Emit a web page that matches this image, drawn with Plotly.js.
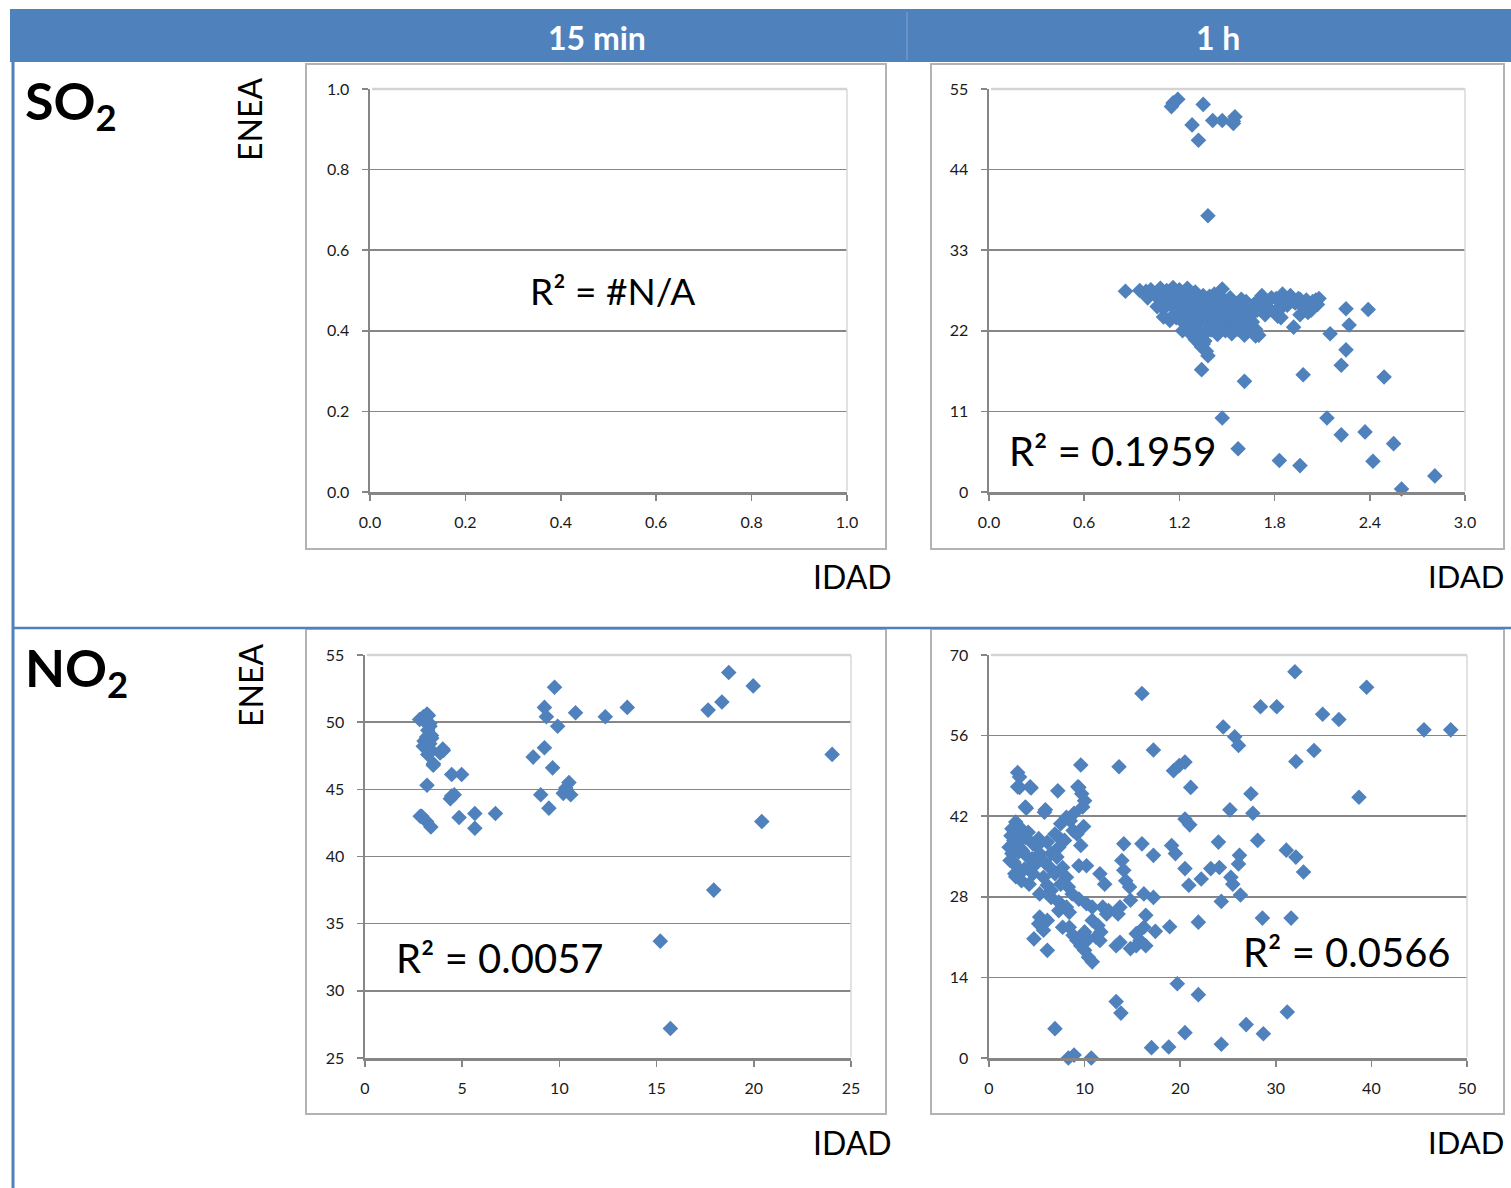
<!DOCTYPE html>
<html>
<head>
<meta charset="utf-8">
<script src="https://cdn.plot.ly/plotly-3.0.1.min.js"></script>
<style>html,body{margin:0;padding:0;background:#fff;}#chart{width:1511px;height:1188px;}</style>
</head>
<body>
<div id="chart"></div>
<script>
// ---------- DATA ----------
const colLabels = ['15 min', '1 h'];
const rowLabels = ['SO<sub>2</sub>', 'NO<sub>2</sub>'];
const yTitle = 'ENEA';
const xTitle = 'IDAD';
const r2Labels = ['R² = #N/A', 'R² = 0.1959', 'R² = 0.0057', 'R² = 0.0566'];

// SO2, 15 min: no data
const so2_15_x = [];
const so2_15_y = [];

// SO2, 1 h
const so2_1h_x = [1.16,1.19,1.15,1.35,1.28,1.32,1.41,1.47,1.54,1.55,1.54,1.38,
 0.86,0.99,1.47,1.72,1.85,1.96,2.06,2.07,2.01,1.82,1.92,2.15,2.25,2.39,2.27,2.25,2.22,1.98,2.49,1.61,1.34,1.38,1.35,1.70,1.26,1.47,2.13,2.22,2.37,1.57,2.55,1.83,1.96,2.42,2.81,2.60,
 0.95,1.02,1.08,1.12,1.16,1.20,1.25,1.30,1.35,1.42,1.52,1.78,1.90,1.95,2.00,2.04,2.08,
 1.00,1.05,1.10,1.14,1.18,1.22,1.27,1.32,1.38,1.44,1.50,1.56,1.62,1.67,1.70,1.75,1.88,1.93,1.98,2.03,
 1.06,1.10,1.15,1.19,1.23,1.28,1.33,1.37,1.41,1.46,1.50,1.55,1.60,1.65,1.69,1.74,1.80,1.84,1.96,
 1.10,1.14,1.18,1.22,1.26,1.30,1.34,1.38,1.42,1.46,1.50,1.54,1.58,1.62,1.66,
 1.22,1.31,1.36,1.40,1.44,1.49,1.53,1.57,1.61,1.66,1.68,
 1.30,1.33,1.36,1.34,1.37,1.31,
 1.04,1.13,1.21,1.29,1.39,1.45,1.53,1.59,1.64,1.73,1.81,1.87,1.92,2.05,
 1.12,1.20,1.29,1.35,1.43,1.52,1.57,1.63,1.71,1.77,1.84,
 1.17,1.25,1.32,1.40,1.48,1.56,1.64,1.68,1.27,1.39,1.46,1.55];
const so2_1h_y = [53.1,53.6,52.6,52.9,50.1,48.0,50.7,50.7,50.6,51.2,50.3,37.7,
 27.4,27.4,27.7,26.8,27.0,26.3,26.2,25.6,24.5,24.0,22.5,21.6,25.0,24.9,22.8,19.4,17.3,16.0,15.7,15.1,16.7,18.6,20.2,21.4,21.8,10.1,10.1,7.8,8.2,5.9,6.6,4.3,3.6,4.2,2.2,0.4,
 27.5,27.6,27.8,27.5,27.9,27.6,27.8,27.3,26.8,27.0,26.5,26.5,26.8,26.4,26.2,26.0,26.4,
 26.5,26.8,26.4,26.9,26.2,26.7,26.3,26.0,26.2,26.4,25.9,25.6,26.0,25.6,26.2,25.8,25.5,25.8,25.2,24.8,
 25.3,25.0,25.5,24.8,25.2,24.9,25.3,24.7,25.1,24.6,25.0,24.4,24.9,24.3,24.8,24.2,24.6,23.8,24.2,
 23.9,23.4,23.8,23.2,23.7,23.1,23.6,23.0,23.5,22.9,23.4,22.8,23.3,22.7,23.2,
 22.0,22.3,21.6,22.1,21.5,22.0,21.6,22.2,21.4,21.9,21.3,
 20.8,20.2,20.6,19.8,19.2,21.0,
 27.1,27.2,27.1,27.0,26.7,26.9,25.9,26.3,25.2,25.9,26.4,26.2,26.0,25.4,
 25.8,25.9,25.6,25.7,25.5,24.7,25.3,24.6,25.4,24.9,25.1,
 24.3,24.0,24.2,24.1,23.9,23.8,23.9,22.2,22.6,22.5,22.4,23.0];

// NO2, 15 min
const no2_15_x = [2.81,3.0,3.19,3.26,3.04,3.33,3.34,3.23,3.17,3.42,3.43,3.04,3.0,3.33,3.14,3.34,3.42,3.23,3.52,3.51,4.00,3.91,4.03,3.86,3.19,4.46,4.97,4.39,4.46,4.59,4.84,2.84,2.92,3.17,3.39,5.65,5.65,6.71,
 8.65,9.23,9.23,9.33,9.75,9.91,10.83,9.65,9.04,9.46,10.2,10.49,10.58,10.33,12.36,13.49,17.65,18.36,18.71,19.97,24.03,20.41,17.94,15.19,15.71];
const no2_15_y = [50.2,50.4,50.6,50.5,50.1,49.9,49.7,49.4,48.9,49.0,48.8,48.6,48.2,48.4,48.1,47.8,47.9,47.6,46.9,46.8,48.0,47.8,47.9,47.7,45.3,46.1,46.1,44.3,44.5,44.6,42.9,43.0,43.0,42.6,42.2,43.2,42.1,43.2,
 47.4,48.1,51.1,50.4,52.6,49.7,50.7,46.6,44.6,43.6,44.7,45.5,44.6,45.1,50.4,51.1,50.9,51.5,53.7,52.7,47.6,42.6,37.5,33.7,27.2];

// NO2, 1 h
const no2_1h_x = [16.0,32.0,39.5,28.4,30.1,34.9,36.6,24.5,25.7,26.1,45.5,48.3,17.2,34.0,32.1,9.6,13.6,19.3,19.9,20.5,21.1,27.4,38.7,25.2,27.6,20.5,21.0,28.1,24.0,14.1,16.0,19.1,19.5,31.1,32.1,32.9,26.2,26.1,17.2,20.5,20.9,22.2,23.2,24.1,25.3,25.5,26.3,24.3,28.6,31.6,21.9,18.9,17.4,16.4,17.2,16.2,19.7,21.9,13.3,13.8,31.2,6.9,26.9,28.7,20.5,24.3,17.0,18.8,8.3,8.9,10.7,
 3.0,3.2,3.2,4.4,7.2,9.4,9.7,10.0,9.8,3.9,5.8,3.2,2.4,2.3,2.6,2.1,2.4,2.2,3.0,2.7,3.4,4.2,3.8,4.6,5.2,5.3,4.9,4.6,4.2,6.1,6.5,6.9,7.5,8.1,8.5,7.3,8.8,9.2,9.6,10.2,9.4,7.3,7.1,7.7,6.9,7.5,6.5,5.3,6.1,5.7,8.1,8.3,8.7,6.5,7.3,8.1,7.3,8.4,9.4,10.2,10.8,11.6,12.1,11.9,12.5,13.9,14.1,14.3,14.7,14.8,13.7,13.5,5.3,5.2,6.1,5.7,4.7,6.1,7.7,8.4,8.8,9.2,9.6,10.0,10.4,10.8,10.8,11.4,11.7,11.2,10.4,10.0,9.4,11.6,13.3,13.7,14.8,15.4,15.8,16.4,15.4,16.2,12.3,3.0,4.3,9.3,3.8,5.9,2.8,3.5,2.6,4.0,5.8,
 2.9,3.6,2.5,3.3,4.1,2.8,3.7,4.5,3.1,5.0,8.9,9.9,7.9,6.3];
const no2_1h_y = [63.3,67.1,64.4,61.0,61.0,59.7,58.8,57.5,55.8,54.3,57.0,57.0,53.5,53.4,51.5,50.9,50.6,49.9,50.8,51.4,47.0,45.9,45.3,43.1,42.5,41.5,40.5,37.8,37.5,37.2,37.2,36.9,35.5,36.1,34.9,32.3,35.2,33.7,35.2,32.9,30.0,31.1,32.9,33.1,31.4,30.2,28.3,27.2,24.3,24.3,23.6,22.8,22.0,24.8,27.9,28.5,12.9,11.0,9.8,7.8,8.0,5.1,5.8,4.2,4.4,2.4,1.8,1.9,0,0.5,0,
 49.6,48.8,47.0,46.9,46.4,47.0,45.9,44.7,43.6,43.4,42.7,40.1,39.8,38.6,37.8,36.6,35.5,34.3,33.1,32.0,30.8,30.2,38.3,37.2,38.1,35.5,33.7,32.0,32.9,37.5,35.5,38.9,40.7,41.8,41.2,38.3,39.5,38.9,36.9,33.4,33.4,36.6,34.9,33.1,32.0,30.2,29.1,28.5,30.0,31.4,31.4,29.7,28.5,27.9,27.1,26.2,25.6,25.3,27.6,26.8,26.2,32.0,30.2,26.2,25.6,34.3,32.6,30.8,29.7,27.4,26.2,25.0,24.5,23.3,23.9,22.2,20.7,18.7,22.7,22.7,21.3,20.4,19.5,18.7,17.5,16.7,23.9,23.0,21.9,21.0,20.7,21.9,20.4,20.4,19.5,20.1,19.0,19.5,20.4,19.5,21.6,22.7,25.0,47.1,47.1,47.1,43.6,43.1,41.0,36.0,34.0,35.0,34.0,
 39.0,38.5,37.2,36.4,39.2,31.5,32.8,34.6,35.8,36.8,42.5,40.2,37.8,33.2];

const xRanges = [[0,1],[0,3],[0,25],[0,50]];
const xSteps = [0.2, 0.6, 5, 10];
const xFormats = ['.1f','.1f','d','d'];
const yRanges = [[0,1],[0,55],[25,55],[0,70]];
const ySteps = [0.2, 11, 5, 14];
const yFormats = ['.1f','d','d','d'];

// ---------- LAYOUT ----------
const W = 1511, H = 1188;
const X = p => p / W;
const Y = p => 1 - p / H;

const areas = [[370,847,89,492],[989,1465,89,492],[365,851,655,1058],[989,1467,655,1058]];
const boxes = [[306,886,64,549],[931,1504,64,549],[306,886,629,1114],[931,1504,629,1114]];

const blue = '#4F81BD';
const axGray = '#868686';
const FONT = 'Lato, "Noto Sans", sans-serif';

const layout = {
  width: W, height: H,
  margin: {l:0, r:0, t:0, b:0},
  paper_bgcolor: '#ffffff', plot_bgcolor: 'rgba(0,0,0,0)',
  showlegend: false,
  font: {family: FONT},
  shapes: [], annotations: []
};

areas.forEach((a, i) => {
  const n = i === 0 ? '' : (i + 1);
  layout['xaxis' + n] = {
    domain: [X(a[0]), X(a[1])], range: xRanges[i], anchor: 'y' + n,
    tick0: 0, dtick: xSteps[i], tickformat: xFormats[i],
    showgrid: false, zeroline: false, showline: true, linecolor: axGray, linewidth: 2.5,
    ticks: 'outside', ticklen: 6, tickwidth: 1.5, tickcolor: axGray,
    ticklabelstandoff: 8,
    tickfont: {family: FONT, size: 16, color: '#1a1a1a'}, fixedrange: true
  };
  layout['yaxis' + n] = {
    domain: [Y(a[3]), Y(a[2])], range: yRanges[i], anchor: 'x' + n,
    tick0: yRanges[i][0], dtick: ySteps[i], tickformat: yFormats[i],
    showgrid: true, gridcolor: axGray, gridwidth: 1.6,
    zeroline: false, showline: true, linecolor: axGray, linewidth: 2.5,
    ticks: 'outside', ticklen: 6, tickwidth: 1.5, tickcolor: axGray,
    ticklabelstandoff: 9,
    tickfont: {family: FONT, size: 16, color: '#1a1a1a'}, fixedrange: true
  };
  layout.shapes.push({type:'line', xref:'paper', yref:'paper', layer:'above',
    x0: X(a[0]+2), x1: X(a[1]), y0: Y(a[2]), y1: Y(a[2]), line:{color:'#d4d4d4', width:2.5}});
  layout.shapes.push({type:'line', xref:'paper', yref:'paper', layer:'above',
    x0: X(a[1]), x1: X(a[1]), y0: Y(a[2]), y1: Y(a[3]-1), line:{color:'#d9d9d9', width:1.5}});
});

boxes.forEach(b => {
  layout.shapes.push({type:'rect', xref:'paper', yref:'paper', layer:'below',
    x0: X(b[0]), x1: X(b[1]), y0: Y(b[3]), y1: Y(b[2]),
    line:{color:'#b3b3b3', width:2}, fillcolor:'rgba(0,0,0,0)'});
});

layout.shapes.push({type:'rect', xref:'paper', yref:'paper', layer:'below',
  x0: X(10), x1: X(1511), y0: Y(62), y1: Y(9), fillcolor: blue, line:{width:0}});
layout.shapes.push({type:'line', xref:'paper', yref:'paper', layer:'below',
  x0: X(907), x1: X(907), y0: Y(60), y1: Y(12), line:{color:'rgba(255,255,255,0.3)', width:1}});
layout.shapes.push({type:'line', xref:'paper', yref:'paper', layer:'below',
  x0: X(13), x1: X(13), y0: Y(62), y1: Y(1188), line:{color: blue, width:3}});
layout.shapes.push({type:'line', xref:'paper', yref:'paper', layer:'below',
  x0: X(13), x1: X(1511), y0: Y(628), y1: Y(628), line:{color: blue, width:2.5}});

function ann(text, x, y, opts) {
  layout.annotations.push(Object.assign({
    text: text, xref:'paper', yref:'paper', x: X(x), y: Y(y),
    showarrow: false, xanchor:'center', yanchor:'middle',
    font: {family: FONT, size: 30, color:'#000'}
  }, opts || {}));
}

ann(colLabels[0], 597, 37, {font:{family:FONT, size:32, color:'#fff', weight:700}});
ann(colLabels[1], 1218, 37, {font:{family:FONT, size:32, color:'#fff', weight:700}});
ann(rowLabels[0], 23, 104, {xanchor:'left', font:{family:FONT, size:52, color:'#000', weight:700}});
ann(rowLabels[1], 23, 671, {xanchor:'left', font:{family:FONT, size:52, color:'#000', weight:700}});
ann(yTitle, 250, 120, {textangle:-90, font:{family:FONT, size:32, color:'#000'}});
ann(yTitle, 250, 686, {textangle:-90, font:{family:FONT, size:32, color:'#000'}});
ann(xTitle, 852, 576, {font:{family:FONT, size:32, color:'#000'}});
ann(xTitle, 1506, 576, {xanchor:'right', font:{family:FONT, size:31, color:'#000'}});
ann(xTitle, 852, 1142, {font:{family:FONT, size:32, color:'#000'}});
ann(xTitle, 1506, 1142, {xanchor:'right', font:{family:FONT, size:31, color:'#000'}});
ann(r2Labels[0], 612, 290, {font:{family:FONT, size:37, color:'#000'}});
ann(r2Labels[1], 1007, 451, {xanchor:'left', font:{family:FONT, size:40, color:'#000'}});
ann(r2Labels[2], 394, 958, {xanchor:'left', font:{family:FONT, size:40, color:'#000'}});
ann(r2Labels[3], 1241, 952, {xanchor:'left', font:{family:FONT, size:40, color:'#000'}});

// ---------- TRACES ----------
const marker = {symbol:'diamond', size:12, color: blue, line:{width:0}};
const series = [[so2_15_x, so2_15_y], [so2_1h_x, so2_1h_y], [no2_15_x, no2_15_y], [no2_1h_x, no2_1h_y]];
const traces = series.map((s, i) => ({
  type:'scatter', mode:'markers', x: s[0], y: s[1],
  xaxis: 'x' + (i === 0 ? '' : i + 1), yaxis: 'y' + (i === 0 ? '' : i + 1),
  marker: marker, cliponaxis: false, hoverinfo: 'skip', showlegend: false
}));

Plotly.newPlot('chart', traces, layout, {displayModeBar:false, staticPlot:true});
</script>
</body>
</html>
